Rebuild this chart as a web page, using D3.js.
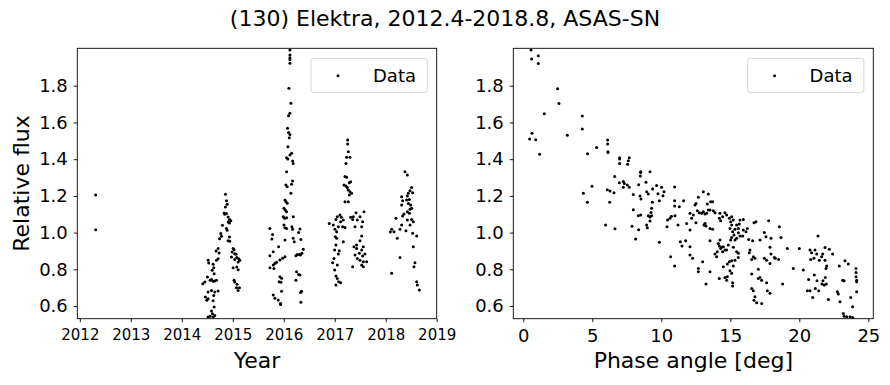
<!DOCTYPE html>
<html><head><meta charset="utf-8">
<script src="https://cdn.jsdelivr.net/npm/d3@7"></script>
<style>
body{margin:0;background:#fff;}
svg{display:block;font-family:"DejaVu Sans",sans-serif;}
.axis path,.axis line{stroke:#000;stroke-width:0.9;}
.axis text{fill:#000;font-family:"DejaVu Sans",sans-serif;}
</style></head>
<body><svg id="c" width="890" height="385"></svg>
<script>
const titleText = "(130) Elektra, 2012.4-2018.8, ASAS-SN";
const yearTicks = [2012, 2013, 2014, 2015, 2016, 2017, 2018, 2019];
const phaseTicks = [0, 5, 10, 15, 20, 25];
const fluxTicks = [0.6, 0.8, 1.0, 1.2, 1.4, 1.6, 1.8];
const legendLabel = "Data";

// [year, relative flux]
const fluxByYear = [
[2012.31,1.205],[2012.31,1.015],
[2014.856,1.209],[2014.876,1.173],[2014.889,1.155],[2014.856,1.140],[2014.830,1.107],[2014.843,1.100],[2014.876,1.104],[2014.908,1.085],[2014.935,1.071],[2014.961,1.064],[2014.908,1.058],[2014.935,1.053],[2014.797,1.040],[2014.876,1.022],[2014.889,1.013],[2014.765,0.995],[2014.778,0.980],[2014.739,0.967],[2014.935,0.976],[2014.908,0.955],[2014.941,0.953],[2014.712,0.913],[2014.673,0.900],[2014.732,0.889],[2015.007,0.913],[2015.026,0.907],[2014.987,0.895],[2015.039,0.885],[2015.065,0.882],[2014.974,0.867],[2015.078,0.864],[2015.118,0.858],[2015.039,0.853],[2015.105,0.840],[2015.007,0.809],[2015.078,0.813],[2015.105,0.798],[2015.137,0.849],[2014.712,0.858],[2014.680,0.849],[2014.516,0.849],[2014.529,0.835],[2014.614,0.827],[2014.627,0.809],[2014.595,0.795],[2014.634,0.776],[2014.503,0.758],[2014.555,0.740],[2014.582,0.744],[2014.614,0.735],[2014.647,0.736],[2014.680,0.740],[2014.451,0.731],[2014.412,0.722],[2015.026,0.740],[2015.039,0.731],[2015.085,0.718],[2015.072,0.700],[2015.131,0.700],[2015.105,0.685],[2014.516,0.676],[2014.582,0.685],[2014.647,0.676],[2014.712,0.682],[2014.627,0.658],[2014.464,0.649],[2014.516,0.640],[2014.490,0.631],[2014.614,0.629],[2014.634,0.595],[2014.582,0.573],[2014.555,0.544],[2014.516,0.540],[2014.614,0.540],[2014.647,0.549],[2014.601,0.558],
[2016.121,1.995],[2016.121,1.968],[2016.121,1.953],[2016.121,1.941],[2016.121,1.922],[2016.101,1.786],[2016.140,1.705],[2016.121,1.650],[2016.094,1.637],[2016.075,1.568],[2016.094,1.546],[2016.121,1.535],[2016.108,1.517],[2016.081,1.468],[2016.153,1.432],[2016.121,1.423],[2016.055,1.408],[2016.081,1.401],[2016.173,1.390],[2016.186,1.377],[2016.055,1.332],[2016.042,1.259],[2016.068,1.250],[2016.173,1.281],[2016.153,1.263],[2016.140,1.214],[2016.023,1.178],[2016.042,1.169],[2016.068,1.160],[2016.003,1.132],[2016.029,1.123],[2016.055,1.114],[2015.990,1.087],[2016.016,1.078],[2016.055,1.081],[2016.186,1.087],[2016.003,1.041],[2016.023,1.027],[2016.055,1.023],[2016.160,1.032],[2016.173,1.018],[2015.728,1.023],[2015.780,0.990],[2015.767,0.965],[2016.317,1.020],[2016.291,1.001],[2016.336,0.963],[2016.023,0.960],[2016.186,0.969],[2016.206,0.950],[2015.898,0.923],[2015.794,0.896],[2015.728,0.874],[2016.382,0.910],[2016.356,0.887],[2016.330,0.878],[2016.304,0.881],[2016.264,0.881],[2016.238,0.874],[2016.023,0.869],[2015.977,0.860],[2015.924,0.851],[2015.859,0.838],[2015.826,0.832],[2015.794,0.823],[2015.728,0.809],[2015.807,0.805],[2016.251,0.787],[2016.291,0.772],[2016.317,0.769],[2015.924,0.760],[2015.957,0.751],[2015.911,0.732],[2015.944,0.729],[2016.238,0.741],[2016.349,0.681],[2016.330,0.674],[2015.794,0.660],[2015.826,0.642],[2015.957,0.681],[2015.892,0.633],[2015.937,0.614],[2015.937,0.609],[2016.336,0.620],
[2017.253,1.504],[2017.253,1.483],[2017.266,1.441],[2017.233,1.410],[2017.299,1.410],[2017.220,1.377],[2017.201,1.305],[2017.233,1.301],[2017.181,1.259],[2017.220,1.254],[2017.246,1.246],[2017.286,1.272],[2017.312,1.277],[2017.266,1.232],[2017.299,1.223],[2017.331,1.214],[2017.286,1.205],[2017.201,1.168],[2017.266,1.168],[2017.102,1.096],[2017.050,1.087],[2017.129,1.083],[2017.024,1.072],[2017.168,1.068],[2017.116,1.059],[2016.893,1.050],[2016.972,1.041],[2017.070,1.032],[2017.004,1.018],[2017.155,1.032],[2017.201,1.028],[2017.037,1.005],[2017.011,0.978],[2017.037,0.969],[2017.168,0.950],[2017.024,0.932],[2016.998,0.905],[2017.089,0.901],[2017.070,0.883],[2016.985,0.859],[2016.959,0.836],[2017.050,0.823],[2016.998,0.796],[2017.024,0.763],[2017.050,0.750],[2017.076,0.732],[2017.116,0.727],[2017.024,0.714],
[2017.416,1.108],[2017.364,1.087],[2017.312,1.083],[2017.351,1.072],[2017.573,1.114],[2017.495,1.087],[2017.443,1.068],[2017.547,1.059],[2017.528,1.032],[2017.397,1.032],[2017.528,0.981],[2017.495,0.956],[2017.429,0.932],[2017.377,0.923],[2017.429,0.914],[2017.560,0.923],[2017.528,0.905],[2017.482,0.887],[2017.397,0.878],[2017.547,0.872],[2017.593,0.883],[2017.443,0.859],[2017.495,0.850],[2017.560,0.841],[2017.351,0.814],[2017.528,0.823],[2017.560,0.814],[2017.626,0.841],
[2018.378,1.332],[2018.424,1.314],[2018.509,1.246],[2018.476,1.228],[2018.443,1.214],[2018.424,1.199],[2018.528,1.217],[2018.312,1.196],[2018.332,1.174],[2018.410,1.177],[2018.463,1.181],[2018.443,1.159],[2018.489,1.150],[2018.509,1.132],[2018.312,1.150],[2018.358,1.101],[2018.332,1.090],[2018.463,1.105],[2018.424,1.114],[2018.476,1.127],[2018.201,1.078],[2018.424,1.068],[2018.509,1.072],[2018.541,1.059],[2018.312,1.041],[2018.280,1.018],[2018.397,1.010],[2018.476,1.041],[2018.528,0.996],[2018.607,0.981],[2018.116,1.018],[2018.162,1.005],[2018.227,0.969],[2018.541,0.923],[2018.280,0.865],[2018.574,0.836],[2018.554,0.814],[2018.607,0.732],[2018.620,0.714],[2018.659,0.687],[2018.116,0.778],[2018.09,1.003]
];

// [phase angle (deg), relative flux]
const fluxByPhase = [
[0.556,1.995],[0.604,1.946],[1.087,1.963],[1.087,1.921],[2.488,1.784],[2.585,1.703],[1.522,1.648],[4.275,1.635],[4.275,1.565],[0.628,1.541],[0.459,1.510],[0.894,1.506],[3.188,1.530],[1.184,1.427],[4.662,1.430],[5.314,1.463],[6.111,1.505],[6.111,1.483],[6.135,1.441],[6.135,1.437],[6.981,1.408],[6.981,1.401],[6.981,1.376],[7.681,1.408],[7.609,1.392],[7.560,1.372],[4.348,1.214],[4.638,1.165],[4.976,1.252],[6.618,1.305],[6.087,1.234],[6.280,1.227],[6.570,1.217],[6.256,1.165],[5.966,1.041],[6.643,1.021],[6.957,1.272],[7.246,1.278],[7.319,1.268],[7.246,1.247],[7.536,1.259],[7.681,1.247],[7.971,1.207],[8.357,1.261],[8.502,1.332],[8.502,1.328],[8.478,1.308],[9.179,1.332],[8.889,1.274],[8.454,1.199],[8.527,1.183],[9.372,1.238],[9.662,1.256],[10.024,1.247],[10.193,1.223],[9.758,1.212],[8.937,1.223],[9.058,1.210],[9.348,1.165],[10.121,1.201],[9.855,1.174],[9.300,1.132],[9.251,1.109],[9.058,1.092],[9.179,1.085],[9.300,1.092],[8.333,1.092],[8.502,1.096],[7.971,1.125],[8.937,1.041],[8.986,1.027],[9.179,1.063],[7.874,1.034],[8.357,1.016],[8.140,0.965],[9.855,0.947],[10.966,1.248],[10.966,1.174],[10.966,1.145],[11.304,1.141],[11.618,1.174],[10.459,1.069],[10.628,1.078],[10.725,1.089],[10.990,1.092],[10.411,1.032],[11.208,1.041],[11.836,1.050],[11.377,0.950],[11.498,0.927],[11.763,0.956],[10.676,0.869],[10.966,0.818],
[13.043,1.223],[13.406,1.210],[12.681,1.192],[13.575,1.168],[13.720,1.168],[12.440,1.150],[12.512,1.159],[13.333,1.156],[13.768,1.119],[13.527,1.123],[12.077,1.105],[12.319,1.096],[12.609,1.119],[12.754,1.108],[12.923,1.105],[13.043,1.114],[13.164,1.101],[13.285,1.105],[13.406,1.123],[13.889,1.108],[14.251,1.105],[14.444,1.087],[14.614,1.108],[14.734,1.096],[14.203,1.078],[14.300,1.065],[12.198,1.078],[12.512,1.054],[13.164,1.050],[13.237,1.036],[13.092,1.041],[13.527,1.023],[13.720,1.018],[12.077,1.014],
[14.928,1.078],[15.097,1.087],[15.024,1.059],[15.217,1.068],[15.097,1.041],[14.976,1.023],[15.169,1.005],[15.338,1.018],[15.459,1.041],[15.700,1.069],[15.942,1.072],[15.652,1.047],[15.580,1.023],[15.266,0.987],[15.459,0.969],[15.097,0.974],[15.024,0.960],[15.338,0.960],[15.580,0.999],[15.700,0.981],[15.942,1.014],[16.135,1.005],[16.232,1.023],[15.894,0.981],[16.329,0.963],[16.618,0.956],[16.715,1.054],[16.860,1.059],
[13.527,0.956],[14.251,0.960],[14.130,0.941],[14.203,0.927],[14.300,0.914],[14.372,0.920],[14.493,0.923],[14.614,0.905],[14.444,0.896],[14.855,0.932],[14.734,0.905],[15.217,0.920],[15.459,0.896],[15.580,0.887],[15.580,0.865],[15.338,0.850],[15.097,0.847],[14.928,0.841],[14.783,0.829],[14.493,0.814],[15.217,0.818],[14.976,0.792],[15.097,0.778],[13.889,0.883],[14.010,0.869],[14.058,0.896],[12.995,0.841],[13.527,0.787],[13.237,0.720],[12.681,0.805],[12.681,0.787],[12.077,0.923],[12.077,0.878],[12.271,0.860],[14.203,0.750],[14.614,0.756],[14.734,0.741],[14.783,0.760],[15.169,0.727],[15.169,0.709],
[16.425,0.905],[16.377,0.890],[16.667,0.869],[16.546,0.854],[16.787,0.860],[17.029,0.800],[16.546,0.774],[17.029,0.750],[17.150,0.756],[17.271,0.741],[16.546,0.696],[16.667,0.683],[16.787,0.651],[16.908,0.618],[17.271,0.614],[16.715,0.632],[17.633,0.727],[17.874,0.669],[17.681,0.683],[17.150,0.960],[17.464,1.000],[17.585,0.978],[17.947,0.969],[17.778,1.065],[18.551,1.032],[18.671,0.974],[17.464,0.860],[17.633,0.850],[17.874,0.832],[18.188,0.865],[18.502,0.854],[17.874,0.920],[17.947,0.883],[18.261,0.860],[18.792,0.720],
[19.130,0.914],[19.565,0.805],[20.000,0.914],[20.290,0.796],[21.353,0.981],[20.773,0.905],[20.894,0.890],[21.135,0.905],[21.256,0.883],[21.063,0.860],[20.821,0.854],[21.449,0.850],[21.618,0.869],[21.691,0.883],[21.860,0.919],[22.174,0.909],[22.415,0.883],[21.860,0.850],[21.981,0.818],[21.932,0.805],[20.676,0.745],[21.087,0.769],[21.280,0.738],[21.159,0.696],[21.401,0.683],[21.643,0.720],[21.715,0.738],[21.812,0.714],[21.957,0.720],[21.884,0.756],[20.773,0.683],[20.580,0.683],[20.966,0.647],
[22.101,0.636],[22.754,0.678],[22.826,0.665],[22.947,0.623],[23.237,0.738],[23.140,0.741],[22.899,0.818],[23.309,0.847],[23.551,0.829],[23.720,0.647],[23.865,0.596],[23.188,0.560],[23.237,0.545],[23.430,0.542],[23.671,0.542],[23.865,0.538],[24.106,0.805],[24.106,0.782],[24.106,0.760],[24.155,0.741],[24.155,0.732],[24.155,0.678]
];

const svg = d3.select("#c");
const plotTop = 48.3, plotBottom = 318.7;
const y = d3.scaleLinear().domain([0.531, 2.004]).range([plotBottom, plotTop]);

svg.append("text").attr("x", 445).attr("y", 26).attr("text-anchor", "middle")
  .style("font-size", "22px").text(titleText);

function panel(id, left, right, xDomain, xTicks, xFmt, xFont, xLabel, data, showYLabel) {
  const x = d3.scaleLinear().domain(xDomain).range([left, right]);
  const g = svg.append("g");
  g.append("clipPath").attr("id", id).append("rect")
    .attr("x", left).attr("y", plotTop).attr("width", right - left).attr("height", plotBottom - plotTop);
  g.append("g").attr("clip-path", `url(#${id})`).selectAll("circle").data(data).join("circle")
    .attr("cx", d => x(d[0])).attr("cy", d => y(d[1])).attr("r", 1.5).attr("fill", "#000");
  const xa = g.append("g").attr("class", "axis").attr("transform", `translate(0,${plotBottom})`)
    .call(d3.axisBottom(x).tickValues(xTicks).tickFormat(xFmt).tickSize(3.5).tickSizeOuter(0).tickPadding(7.5));
  xa.select(".domain").remove();
  xa.selectAll("text").style("font-size", xFont + "px");
  const ya = g.append("g").attr("class", "axis").attr("transform", `translate(${left},0)`)
    .call(d3.axisLeft(y).tickValues(fluxTicks).tickFormat(d3.format(".1f")).tickSize(3.5).tickSizeOuter(0).tickPadding(6));
  ya.select(".domain").remove();
  ya.selectAll("text").style("font-size", "18px");
  g.append("rect").attr("x", left).attr("y", plotTop).attr("width", right - left).attr("height", plotBottom - plotTop)
    .attr("fill", "none").attr("stroke", "#000").attr("stroke-width", 0.9);
  g.append("text").attr("x", (left + right) / 2).attr("y", 368).attr("text-anchor", "middle")
    .style("font-size", "22px").text(xLabel);
  if (showYLabel) {
    g.append("text").attr("transform", `translate(28.5,${(plotTop + plotBottom) / 2}) rotate(-90)`)
      .attr("text-anchor", "middle").style("font-size", "22px").text("Relative flux");
  }
  const lx = right - 125.7, ly = 58.3;
  g.append("rect").attr("x", lx).attr("y", ly).attr("width", 116.3).attr("height", 34.4).attr("rx", 3)
    .attr("fill", "#fff").attr("fill-opacity", 0.8).attr("stroke", "#d5d5d5").attr("stroke-width", 1);
  g.append("circle").attr("cx", lx + 27).attr("cy", ly + 17.4).attr("r", 1.5).attr("fill", "#000");
  g.append("text").attr("x", lx + 62).attr("y", ly + 24).style("font-size", "18px").text(legendLabel);
}

panel("clipL", 77.3, 436.7, [2011.95, 2019.0], yearTicks, d3.format("d"), 15, "Year", fluxByYear, true);
panel("clipR", 513.3, 873.3, [-0.725, 25.36], phaseTicks, d3.format("d"), 18, "Phase angle [deg]", fluxByPhase, false);
</script></body></html>
